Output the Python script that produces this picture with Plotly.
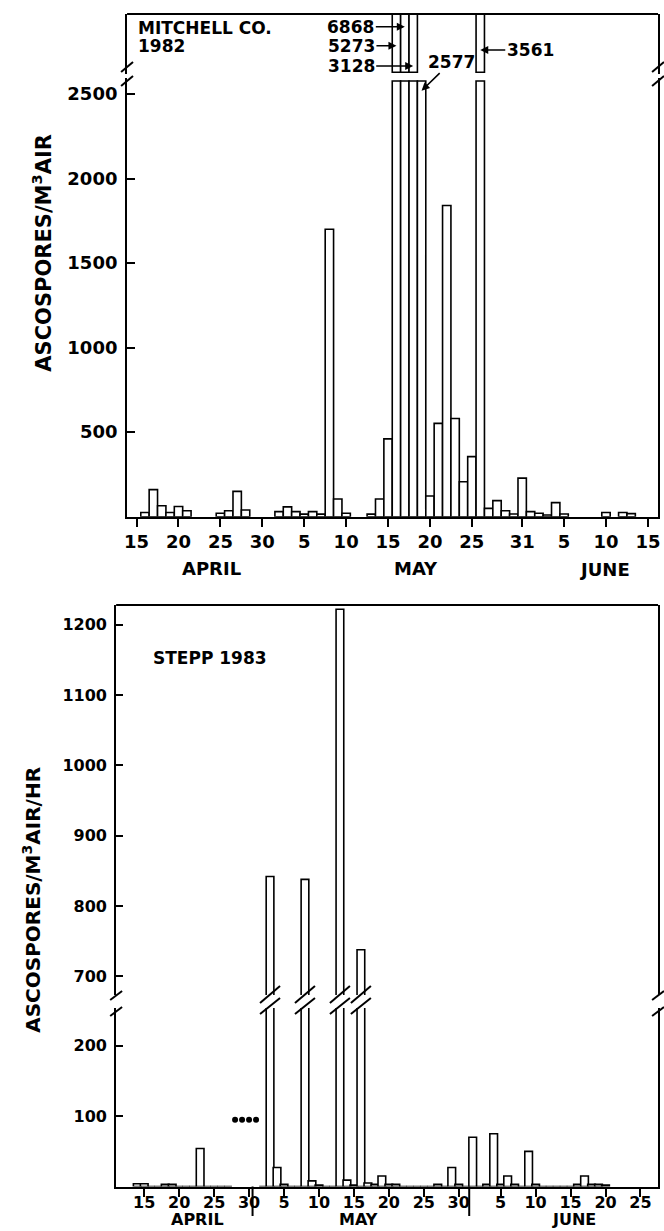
import plotly.graph_objects as go

# ---------------------------------------------------------------- data
# Mitchell Co. 1982 : ascospores / m3 air, one value per day
mitchell_april = [0, 25, 160, 65, 25, 60, 35, 0, 0, 0, 20, 35, 150, 40, 0, 0]            # Apr 15-30
mitchell_may = [0, 30, 58, 30, 15, 30, 15, 1700, 105, 20, 0, 0, 15, 105, 460,
                5273, 6868, 3128, 2577, 122, 552, 1840, 581, 207, 355, 3561,
                49, 95, 35, 16, 228]                                                      # May 1-31
mitchell_june = [30, 20, 10, 83, 16, 0, 0, 0, 0, 25, 0, 25, 18, 0, 0]                    # Jun 1-15
mitchell_first_day = 0            # day number of Apr 15
mitchell_break = 2577             # top of lower (unbroken) axis section
mitchell_tick_days = [0, 5, 10, 15, 20, 25, 30, 35, 40, 46, 51, 56, 61]
mitchell_tick_labels = ["15", "20", "25", "30", "5", "10", "15", "20", "25", "31", "5", "10", "15"]
mitchell_yticks = [500, 1000, 1500, 2000, 2500]

# Stepp 1983 : ascospores / m3 air / hr, one value per day (None = not sampled)
stepp_april = [4, 4, 0, 0, 3, 3, 0, 0, 0, 54, 0, 0, 0, 0, None, None, None]             # Apr 14-30
stepp_may = [None, 0, 842, 27, 3, 0, 0, 838, 8, 2, 0, 0, 1222, 9, 2, 738, 5, 3, 15, 3, 3,
             0, 0, 0, 0, 0, 3, 0, 27, 3, 0]                                               # May 1-31
stepp_june = [70, 0, 3, 75, 3, 15, 3, 0, 50, 3, 0, 0, 0, 0, 0, 3, 15, 3, 3, 2]           # Jun 1-20
stepp_first_day = -1              # day number of Apr 14
stepp_missing_days = [13, 14, 15, 16]   # Apr 28 - May 1 (marked with dots)
stepp_missing_level = 95
stepp_tick_days = [0, 5, 10, 15, 20, 25, 30, 35, 40, 45, 51, 56, 61, 66, 71]
stepp_tick_labels = ["15", "20", "25", "30", "5", "10", "15", "20", "25", "30", "5", "10", "15", "20", "25"]
stepp_month_bounds = [15.5, 46.5]
stepp_yticks_low = [100, 200]
stepp_yticks_high = [700, 800, 900, 1000, 1100, 1200]

# ---------------------------------------------------------------- helpers / geometry
W, H = 664, 1231
FONT = "DejaVu Sans"
def fx(p): return p / W
def fy(p): return 1 - p / H

# top panel geometry (pixels)
T_L, T_R, T_TOP, T_UP_BOT, T_LO_TOP, T_BASE = 125, 660, 14, 74, 78, 516.7
T_SCALE = 0.1691          # px per unit
T_DAY0, T_DAYPX = 134.6, 8.446
T_UP_LO = 2590
T_UP_BASE = 2600
T_UP_HI = T_UP_LO + (T_UP_BOT - T_TOP) / T_SCALE

# bottom panel geometry (pixels)
B_L, B_R, B_TOP, B_UP_BOT, B_LO_TOP, B_BASE = 114, 660, 605, 995, 1008, 1186.5
B_SCALE = 0.7035
B_UP_HI = 1228
B_DAY0, B_DAYPX = 142.3, 7.042

top_vals = mitchell_april + mitchell_may + mitchell_june
top_days = [mitchell_first_day + i for i in range(len(top_vals))]
top_lower = [min(v, mitchell_break) if v else None for v in top_vals]
top_upper = [(v - T_UP_BASE) if v > mitchell_break else None for v in top_vals]

bot_vals = stepp_april + stepp_may + stepp_june
bot_days = [stepp_first_day + i for i in range(len(bot_vals))]

bar_style = dict(color="white", line=dict(color="black", width=1.6))

fig = go.Figure()
fig.add_trace(go.Bar(x=top_days, y=top_lower, width=1, marker=bar_style,
                     xaxis="x", yaxis="y", showlegend=False, hoverinfo="skip"))
fig.add_trace(go.Bar(x=top_days, y=top_upper, base=T_UP_BASE, width=1, marker=bar_style,
                     xaxis="x", yaxis="y2", showlegend=False, hoverinfo="skip"))
fig.add_trace(go.Bar(x=bot_days, y=bot_vals, width=1.1, marker=bar_style,
                     xaxis="x3", yaxis="y3", showlegend=False, hoverinfo="skip"))
fig.add_trace(go.Bar(x=bot_days, y=bot_vals, width=1.1, marker=bar_style,
                     xaxis="x3", yaxis="y4", showlegend=False, hoverinfo="skip"))
fig.add_trace(go.Scatter(x=stepp_missing_days, y=[stepp_missing_level] * len(stepp_missing_days),
                         mode="markers", marker=dict(color="black", size=6),
                         xaxis="x3", yaxis="y3", showlegend=False, hoverinfo="skip"))

tick_font_top = dict(family=FONT, size=18, color="black", weight="bold")
tick_font_bot = dict(family=FONT, size=16, color="black", weight="bold")
common_axis = dict(showgrid=False, zeroline=False, showline=True, linewidth=2,
                   linecolor="black", tickcolor="black", tickwidth=2, fixedrange=True)

fig.update_layout(
    width=W, height=H, margin=dict(l=0, r=0, t=0, b=0),
    paper_bgcolor="white", plot_bgcolor="rgba(0,0,0,0)", barmode="overlay",
    font=dict(family=FONT, color="black"),
    xaxis=dict(domain=[fx(T_L), fx(T_R)],
               range=[(T_L - T_DAY0) / T_DAYPX, (T_R - T_DAY0) / T_DAYPX],
               anchor="y", tickmode="array", tickvals=mitchell_tick_days,
               ticktext=mitchell_tick_labels, ticks="outside", ticklen=8,
               tickfont=tick_font_top, **common_axis),
    yaxis=dict(domain=[fy(T_BASE), fy(T_LO_TOP)], range=[0, (T_BASE - T_LO_TOP) / T_SCALE],
               anchor="x", tickmode="array", tickvals=mitchell_yticks, ticks="inside",
               ticklen=8, mirror=True, tickfont=tick_font_top, ticklabelstandoff=4, **common_axis),
    yaxis2=dict(domain=[fy(T_UP_BOT), fy(T_TOP)], range=[T_UP_LO, T_UP_HI], anchor="x",
                showticklabels=False, ticks="", mirror=True, **common_axis),
    xaxis3=dict(domain=[fx(B_L), fx(B_R)],
                range=[(B_L - B_DAY0) / B_DAYPX, (B_R - B_DAY0) / B_DAYPX],
                anchor="y3", tickmode="array", tickvals=stepp_tick_days,
                ticktext=stepp_tick_labels, ticks="outside", ticklen=8,
                ticklabelstandoff=-8,
                tickfont=tick_font_bot, **common_axis),
    yaxis3=dict(domain=[fy(B_BASE), fy(B_LO_TOP)], range=[0, (B_BASE - B_LO_TOP) / B_SCALE],
                anchor="x3", tickmode="array", tickvals=stepp_yticks_low, ticks="inside",
                ticklen=7, mirror=True, tickfont=tick_font_bot, ticklabelstandoff=4, **common_axis),
    yaxis4=dict(domain=[fy(B_UP_BOT), fy(B_TOP)],
                range=[B_UP_HI - (B_UP_BOT - B_TOP) / B_SCALE, B_UP_HI],
                anchor="x3", tickmode="array", tickvals=stepp_yticks_high, ticks="inside",
                ticklen=7, mirror=True, tickfont=tick_font_bot, ticklabelstandoff=4, **common_axis),
)

shapes = []
line2 = dict(color="black", width=2)
# top borders
shapes.append(dict(type="line", xref="paper", yref="paper", x0=fx(T_L), x1=fx(T_R),
                   y0=fy(T_TOP), y1=fy(T_TOP), line=line2))
shapes.append(dict(type="line", xref="paper", yref="paper", x0=fx(B_L), x1=fx(B_R),
                   y0=fy(B_TOP), y1=fy(B_TOP), line=line2))
# axis break slashes (left and right frame lines)
for xc, (ya, yb) in [(T_L, (72, 62)), (T_L, (86, 76)), (T_R, (72, 62)), (T_R, (86, 76)),
                     (B_L, (1000, 991)), (B_L, (1016, 1007)),
                     (B_R, (1000, 991)), (B_R, (1016, 1007))]:
    shapes.append(dict(type="line", xref="paper", yref="paper",
                       x0=fx(xc - 6), x1=fx(xc + 6), y0=fy(ya), y1=fy(yb), line=line2))
# slashes across broken Stepp bars
lo_top_val = (B_BASE - B_LO_TOP) / B_SCALE
for d, v in zip(bot_days, bot_vals):
    if v is not None and v > lo_top_val:
        for (ya, yb) in [(1003, 986), (1014, 998)]:
            shapes.append(dict(type="line", xref="x3", xsizemode="pixel", xanchor=d,
                               x0=-10, x1=10, yref="paper", y0=fy(ya), y1=fy(yb), line=line2))
# month boundary marks (Stepp)
for b in stepp_month_bounds:
    shapes.append(dict(type="line", xref="x3", yref="paper", x0=b, x1=b,
                       y0=fy(B_BASE), y1=fy(1216), line=line2))
fig.update_layout(shapes=shapes)

ann = []
txt = dict(family=FONT, size=17, color="black", weight="bold")
def label(text, px, py, size=17, anchor="center", angle=0):
    ann.append(dict(text=text, x=fx(px), y=fy(py), xref="paper", yref="paper",
                    showarrow=False, xanchor=anchor, yanchor="middle", textangle=angle,
                    font=dict(family=FONT, size=size, color="black", weight="bold")))

label("MITCHELL CO.", 134, 27.5, anchor="left")
label("1982", 134, 46.5, anchor="left")
label("ASCOSPORES/M<sup>3</sup>AIR", 39, 253, size=21, angle=-90)
label("APRIL", 210, 568, size=18)
label("MAY", 416, 568, size=18)
label("JUNE", 606, 569, size=18)

label("STEPP 1983", 149, 657.7, anchor="left")
label("ASCOSPORES/M<sup>3</sup>AIR/HR", 29, 900, size=20, angle=-90)
label("APRIL", 196, 1219, size=16)
label("MAY", 358, 1219, size=16)
label("JUNE", 575, 1219, size=16)

# value call-outs for the broken Mitchell bars: (head y px, text offset x, text offset y)
callouts = {6868: (26.7, -54, 0), 5273: (45.7, -45, 0), 3128: (66, -62, 0),
            2577: (90.7, 30, -29), 3561: (50, 50, 0)}
for d, v in zip(top_days, top_vals):
    if v in callouts:
        hy, axo, ayo = callouts[v]
        ann.append(dict(text=str(v), x=d, y=fy(hy), xref="x", yref="paper",
                        showarrow=True, ax=axo, ay=ayo, arrowhead=2, arrowsize=1,
                        arrowwidth=1.6, arrowcolor="black", standoff=0,
                        font=txt))
fig.update_layout(annotations=ann)

fig.write_html("out.html")
